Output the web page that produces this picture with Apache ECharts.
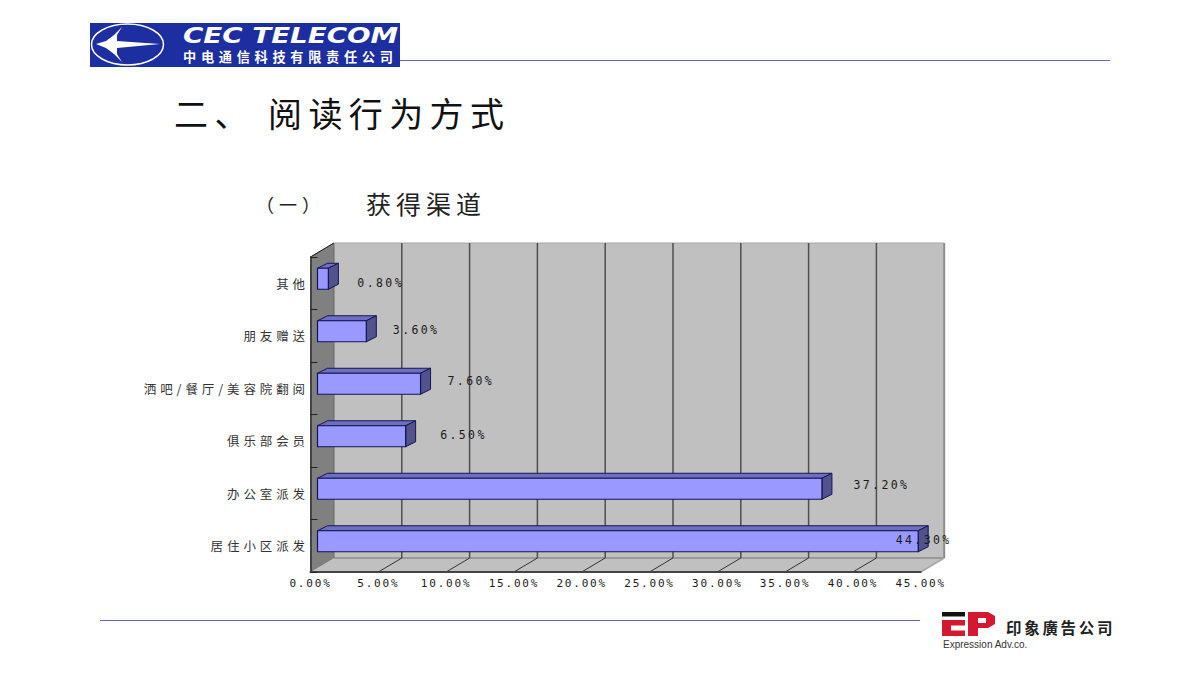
<!DOCTYPE html>
<html><head><meta charset="utf-8">
<style>
html,body{margin:0;padding:0;background:#fff}
#c{width:1200px;height:680px}
svg text[style*="11px"]{letter-spacing:1.8px}
svg text[style*="11.5px"]{letter-spacing:2.4px}
svg text[style*="12.5px"]{letter-spacing:3.9px}
svg text[style*="34px"]{letter-spacing:6.4px}
svg text[style*="25px"]{letter-spacing:5px}
svg text[style*="18px"]{letter-spacing:5px}
svg text[style*="13.2px"]{letter-spacing:4.7px}
svg text[style*="15.5px"]{letter-spacing:2.7px}
</style>
<script src="https://cdn.jsdelivr.net/npm/echarts@6/dist/echarts.min.js"></script>
</head><body><div id="c"></div>
<script>
const categories = ['居住小区派发','办公室派发','俱乐部会员','洒吧/餐厅/美容院翻阅','朋友赠送','其他'];
const shares = [44.3,37.2,6.5,7.6,3.6,0.8];
const tickValues = [0,5,10,15,20,25,30,35,40,45];
const labelShiftX = [-22.5,31.5,34.5,27,26.5,29];
const labelShiftY = [-1.5,-3.5,-1,-2.5,-1,4];

const MONO = '"DejaVu Sans Mono"', CJK = '"Noto Sans CJK SC"';
const WALL = [23.5,-14], BAR_OFF = [7,-4.5], BAR_DEPTH = [10,-5], BAR_H = 21;
const chart = echarts.init(document.getElementById('c'),null,{renderer:'svg',width:1200,height:680});

function poly(points,fill,stroke,lw){
  return {type:'polygon',shape:{points},style:{fill,stroke:stroke||'none',lineWidth:lw||1}};
}
function seg(a,b,stroke,lw){
  return {type:'line',shape:{x1:a[0],y1:a[1],x2:b[0],y2:b[1]},style:{stroke,lineWidth:lw||1}};
}
function renderWalls(params,api){
  const b=params.coordSys, y0=b.y, y1=b.y+b.height;
  const x0=b.x, x1=b.x+b.width, dx=WALL[0], dy=WALL[1];
  const kids=[
    poly([[x0+dx,y0+dy],[x1+dx,y0+dy],[x1+dx,y1+dy],[x0+dx,y1+dy]],'#c0c0c0'),
    poly([[x0,y0],[x0+dx,y0+dy],[x0+dx,y1+dy],[x0,y1]],'#808080','#6a6a6a'),
    poly([[x0,y1],[x0+dx,y1+dy],[x1+dx,y1+dy],[x1,y1]],'#c0c0c0'),
    seg([x0+dx,y1+dy],[x1+dx,y1+dy],'#8c8c8c',1.5),
    seg([x1+dx,y0+dy],[x1+dx,y1+dy],'#8c8c8c',2),
    seg([x1,y1],[x1+dx,y1+dy],'#a8a8a8',1.5),
    seg([x0+dx,y0+dy],[x1+dx,y0+dy],'#a8a8a8',1),
    seg([x0,y0],[x0+dx,y0+dy],'#222',1)
  ];
  tickValues.forEach(function(t){
    const x=api.coord([t,0])[0];
    if(t>0&&t<45) kids.push(seg([x+dx,y0+dy],[x+dx,y1+dy],'#4f4f4f',1.5));
    if(t>0&&t<45) kids.push(seg([x,y1],[x+dx,y1+dy],'#333',1));
  });
  return {type:'group',children:kids};
}
function renderBar(params,api){
  const v=api.value(0), i=api.value(1);
  const p0=api.coord([0,i]), p1=api.coord([v,i]);
  const ox=BAR_OFF[0], oy=BAR_OFF[1], dx=BAR_DEPTH[0], dy=BAR_DEPTH[1], h=BAR_H/2;
  const l=p0[0]+ox, r=p1[0]+ox, t=p0[1]+oy-h, btm=p0[1]+oy+h;
  const edge='#14145a';
  return {type:'group',children:[
    poly([[l,t],[l+dx,t+dy],[r+dx,t+dy],[r,t]],'#6f6fbf',edge,1),
    poly([[r,t],[r+dx,t+dy],[r+dx,btm+dy],[r,btm]],'#52528c',edge,1),
    poly([[l,t],[r,t],[r,btm],[l,btm]],'#9999ff',edge,1.2)
  ]};
}
function renderLabel(params,api){
  const v=api.value(0), i=api.value(1), p=api.coord([v,i]);
  return {type:'text',z2:10,style:{
    text:v.toFixed(2)+'%',font:'11.5px '+MONO,fill:'#1a1a1a',textAlign:'left',textVerticalAlign:'middle',
    x:p[0]+BAR_OFF[0]+labelShiftX[i],y:p[1]+BAR_OFF[1]+labelShiftY[i]
  }};
}
const rows=shares.map(function(v,i){return [v,i];});
function txt(x,y,text,font,fill,extra){
  return Object.assign({type:'text',x,y,silent:true,style:{text,font,fill:fill||'#111',textAlign:'left',textVerticalAlign:'middle'}},extra||{});
}
const blue='#1c2ea0', red='#d4182f';
const graphic=[
  {type:'line',shape:{x1:400,y1:60.5,x2:1110,y2:60.5},style:{stroke:'#6666cc',lineWidth:1}},
  {type:'line',shape:{x1:100,y1:620.5,x2:920,y2:620.5},style:{stroke:'#6666cc',lineWidth:1}},
  {type:'rect',shape:{x:90,y:23,width:310,height:44},style:{fill:blue}},
  {type:'ellipse',shape:{cx:127.5,cy:44.5,rx:36,ry:20.5},style:{fill:'none',stroke:'#fff',lineWidth:1.5}},
  {type:'polygon',shape:{points:[[96,44],[106,41],[114,35],[122,27],[117,35],[117,41],[160,44],[117,48],[117,54],[122,62],[114,54],[106,48]]},style:{fill:'#fff'}},
  txt(183,36,'CEC TELECOM','italic bold 21px "DejaVu Sans"','#fff',{scaleX:1.32,originX:0,originY:0}),
  txt(183,56.5,'中电通信科技有限责任公司','bold 13.2px '+CJK,'#fff'),
  txt(174,112.5,'二、','34px '+CJK,'#111'),
  txt(268,112.5,'阅读行为方式','34px '+CJK,'#111'),
  txt(256,204,'（一）','18px '+CJK,'#222'),
  txt(366,203,'获得渠道','25px '+CJK,'#222'),
  {type:'rect',shape:{x:942,y:612,width:23,height:4.5},style:{fill:'#111'}},
  {type:'polygon',shape:{points:[[942,620],[965,620],[965,625.5],[951,625.5],[951,630.5],[965,630.5],[965,636],[942,636]]},style:{fill:red}},
  {type:'polygon',shape:{points:[[968,612],[988,612],[995,616],[995,624],[988,628],[978,628],[978,636],[968,636]]},style:{fill:red}},
  {type:'rect',shape:{x:978,y:618,width:8,height:5},style:{fill:'#fff'}},
  txt(1006,627,'印象廣告公司','bold 15.5px '+CJK,'#222'),
  txt(943,644,'Expression Adv.co.','10px "Liberation Sans"','#333')
];
chart.setOption({
  animation:false,
  backgroundColor:'#fff',
  graphic:{elements:graphic},
  grid:{left:310.5,right:279.3,top:257,bottom:108,containLabel:false},
  xAxis:{type:'value',min:0,max:45,interval:5,
    axisLine:{show:true,lineStyle:{color:'#444',width:2}},axisTick:{show:false},splitLine:{show:false},z:5,
    axisLabel:{margin:6,color:'#1a1a1a',fontFamily:'DejaVu Sans Mono',fontSize:11,formatter:function(v){return v.toFixed(2)+'%';},hideOverlap:false,showMinLabel:true,showMaxLabel:true}},
  yAxis:{type:'category',data:categories,
    axisLine:{show:true,lineStyle:{color:'#444',width:2}},
    axisTick:{show:true,inside:true,length:7,lineStyle:{color:'#222'}},z:5,
    axisLabel:{margin:1.5,color:'#333',fontFamily:'Noto Sans CJK SC',fontSize:12.5,interval:0}},
  series:[
    {type:'custom',coordinateSystem:'cartesian2d',renderItem:renderWalls,data:[[0,0]],z:1,silent:true,encode:{x:0,y:1}},
    {type:'custom',coordinateSystem:'cartesian2d',renderItem:renderBar,data:rows,z:2,silent:true,encode:{x:0,y:1}},
    {type:'custom',coordinateSystem:'cartesian2d',renderItem:renderLabel,data:rows,z:3,silent:true,encode:{x:0,y:1}}
  ]
});
</script></body></html>
